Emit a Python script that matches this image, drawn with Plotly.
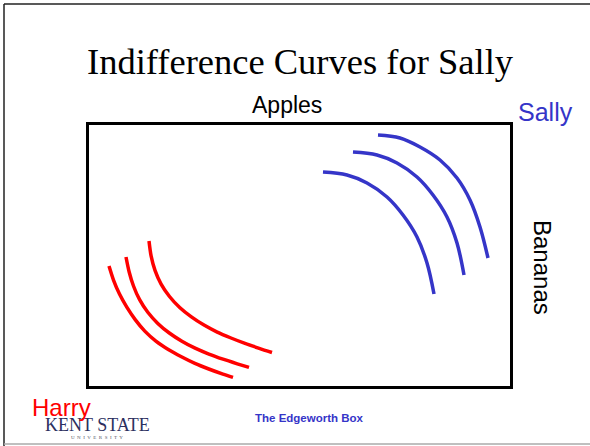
import plotly.graph_objects as go

# Edgeworth box units (box width 425, height 265); Harry origin bottom-left
harry_x = [
    [22, 26.6, 32.5, 39.8, 48.2, 57.8, 68.9, 81.3, 94.4, 107.9, 121.8, 135.9, 146],
    [39, 42.1, 46.5, 52.6, 60.8, 70.8, 82.3, 94.9, 108.1, 121.9, 136, 150.3, 162],
    [62, 64.1, 68, 74.1, 82.5, 92.7, 104.4, 117, 130.2, 144, 158, 172.2, 185],
]
harry_y = [
    [122, 107.7, 93.9, 80.8, 68.4, 56.9, 46.9, 38.5, 31.2, 24.6, 19.0, 13.9, 10.6],
    [131, 116.3, 102.0, 88.3, 75.7, 64.6, 55.0, 46.8, 39.8, 33.9, 28.8, 24.2, 20.6],
    [147, 132.1, 117.6, 103.9, 91.5, 80.5, 71.1, 62.9, 55.9, 50.0, 44.6, 39.7, 35.5],
]
sally_x = [
    [236, 260, 280, 300, 316, 330, 340, 347],
    [266, 290, 310, 330, 346, 360, 370, 377],
    [291, 313, 333, 353, 370, 383, 393, 401],
]
sally_y = [
    [216, 213, 205, 191, 173, 151, 125, 94],
    [236, 233, 225, 211, 193, 171, 145, 113],
    [253, 250, 241, 228, 210, 188, 161, 130],
]

title_text = "Indifference Curves for Sally"
apples_label = "Apples"
bananas_label = "Bananas"
sally_label = "Sally"
harry_label = "Harry"
footer_text = "The Edgeworth Box"

RED = "#FF0000"
BLUE = "#3535C8"

W, H = 590, 446
L, R, T, B = 89, 80, 125, 60
X0, Y0 = 87, 388  # box origin (Harry) on the page


def px(x):
    return (x - L) / (W - L - R)


def py(y):
    return (H - B - y) / (H - T - B)


fig = go.Figure()
for xs, ys in zip(harry_x, harry_y):
    fig.add_trace(go.Scatter(x=xs, y=ys, mode="lines",
                             line=dict(color=RED, width=3.5, shape="spline", smoothing=0.8),
                             showlegend=False, hoverinfo="skip"))
for xs, ys in zip(sally_x, sally_y):
    fig.add_trace(go.Scatter(x=xs, y=ys, mode="lines",
                             line=dict(color=BLUE, width=3.5, shape="spline"),
                             showlegend=False, hoverinfo="skip"))

axis_common = dict(showgrid=False, zeroline=False, showticklabels=False, ticks="",
                   showline=True, mirror=True, linecolor="black", linewidth=3)
fig.update_xaxes(range=[L - X0, W - R - X0], **axis_common)
fig.update_yaxes(range=[Y0 - (H - B), Y0 - T], **axis_common)

shapes = [
    dict(type="line", xref="paper", yref="paper", x0=px(4), x1=px(4), y0=py(4), y1=py(446),
         line=dict(color="#222222", width=1.5)),
    dict(type="line", xref="paper", yref="paper", x0=px(4), x1=px(590), y0=py(4), y1=py(4),
         line=dict(color="#222222", width=1.5)),
    dict(type="line", xref="paper", yref="paper", x0=px(4), x1=px(590), y0=py(444), y1=py(444),
         line=dict(color="#AAAAAA", width=1.5)),
]

ann = []


def add_text(text, x, y, size, color, family="Arial", xanchor="center", yanchor="middle",
             angle=0, bold=False):
    t = f"<b>{text}</b>" if bold else text
    ann.append(dict(text=t, x=px(x), y=py(y), xref="paper", yref="paper", showarrow=False,
                    xanchor=xanchor, yanchor=yanchor, textangle=angle,
                    font=dict(size=size, color=color, family=family)))


add_text(title_text, 300, 62, 36.5, "black", family="Liberation Serif, Times New Roman, serif")
add_text(apples_label, 287, 105, 23, "black", family="Liberation Sans, Arial")
add_text(sally_label, 545.5, 112, 25, BLUE, family="Liberation Sans, Arial")
add_text(bananas_label, 543, 267, 24, "black", family="Liberation Sans, Arial", angle=90)
# logo
add_text("KENT STATE", 97, 425, 18, "#2C3060", family="Liberation Serif, Times New Roman, serif")
add_text("U  N  I  V  E  R  S  I  T  Y", 97, 437, 5, "#555566", family="Liberation Serif")
add_text(harry_label, 61, 407, 24, RED, family="Liberation Sans, Arial")
add_text(footer_text, 309, 418, 11.5, BLUE, family="Liberation Sans, Arial", bold=True)

fig.update_layout(width=W, height=H, margin=dict(l=L, r=R, t=T, b=B),
                  paper_bgcolor="white", plot_bgcolor="white",
                  shapes=shapes, annotations=ann)

fig.write_html("out.html", config={"displayModeBar": False},
               post_script="document.body.style.margin='0px';")
